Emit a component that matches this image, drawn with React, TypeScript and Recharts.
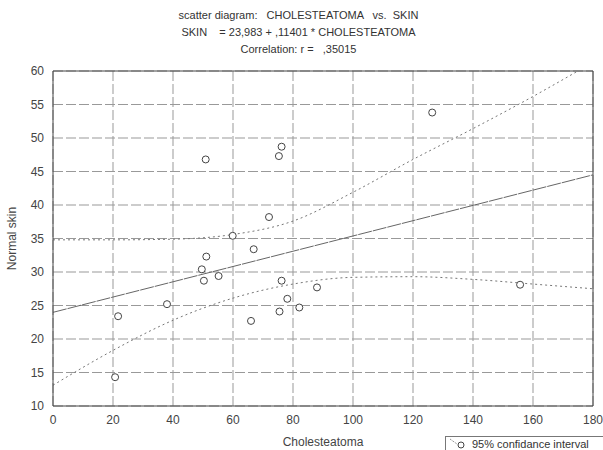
import {
  ComposedChart,
  Scatter,
  Line,
  XAxis,
  YAxis,
  CartesianGrid,
  ReferenceLine,
} from "recharts";

// observed pairs (cholesteatoma, normal skin)
const cholesteatoma = [
  20.7, 21.7, 38, 49.6, 50.3, 50.9, 51.1, 55.2, 59.9, 66, 66.9, 72, 75.3,
  76.2, 75.5, 76.2, 78.1, 82.1, 88, 126.4, 155.7,
];
const skin = [
  14.3, 23.4, 25.2, 30.4, 28.7, 46.8, 32.3, 29.4, 35.4, 22.7, 33.4, 38.2,
  47.3, 48.7, 24.1, 28.7, 26, 24.7, 27.7, 53.8, 28.1,
];

// regression line end points
const regX = [0, 180];
const regY = [23.98, 44.5];

// 95% confidence band
const bandX = [0, 20, 40, 60, 80, 100, 120, 140, 160, 180];
const upperBand = [34.8, 34.8, 34.9, 35.6, 37.6, 41.9, 46.8, 51.4, 56.2, 61.3];
const lowerBand = [13.1, 18.3, 22.8, 26.1, 28.2, 29.2, 29.3, 28.9, 28.2, 27.5];

const xTicks = [0, 20, 40, 60, 80, 100, 120, 140, 160, 180];
const yTicks = [10, 15, 20, 25, 30, 35, 40, 45, 50, 55, 60];

const points = cholesteatoma.map((x, i) => ({ x, y: skin[i] }));
const regData = regX.map((x, i) => ({ x, y: regY[i] }));
const upperData = bandX.map((x, i) => ({ x, y: upperBand[i] }));
const lowerData = bandX.map((x, i) => ({ x, y: lowerBand[i] }));

const font = "'Liberation Sans', Arial, sans-serif";
const tickStyle = { fontSize: 12, fill: "#444", fontFamily: font };

const OpenCircle = (props: any) => (
  <circle
    cx={props.cx}
    cy={props.cy}
    r={3.5}
    fill="#fff"
    stroke="#444"
    strokeWidth={1}
  />
);

const titleLine = (text: string, top: number) => (
  <div
    style={{
      position: "absolute",
      left: -3,
      top,
      width: 603,
      textAlign: "center",
      whiteSpace: "pre",
      fontSize: 11,
      color: "#333",
      fontFamily: font,
    }}
  >
    {text}
  </div>
);

export default function App() {
  return (
    <div
      style={{
        position: "absolute",
        left: 0,
        top: 0,
        width: 603,
        height: 450,
        background: "#fff",
        overflow: "hidden",
      }}
    >
      {titleLine("scatter diagram:   CHOLESTEATOMA   vs.  SKIN", 9)}
      {titleLine("SKIN    = 23,983 + ,11401 * CHOLESTEATOMA", 26)}
      {titleLine("Correlation: r =   ,35015", 43)}

      <ComposedChart
        width={603}
        height={450}
        margin={{ top: 71, right: 10, bottom: 14, left: 0 }}
      >
        <CartesianGrid stroke="#999" strokeDasharray="10 3" />
        <XAxis
          type="number"
          dataKey="x"
          domain={[0, 180]}
          ticks={xTicks}
          allowDataOverflow
          height={30}
          tickSize={0}
          tickMargin={9}
          tick={tickStyle}
          axisLine={{ stroke: "#444" }}
          label={{
            value: "Cholesteatoma",
            position: "insideBottom",
            offset: -10,
            style: { fontSize: 12, fill: "#444", fontFamily: font },
          }}
        />
        <YAxis
          type="number"
          dataKey="y"
          domain={[10, 60]}
          ticks={yTicks}
          allowDataOverflow
          width={53}
          tickSize={0}
          tickMargin={9}
          tick={tickStyle}
          axisLine={{ stroke: "#444" }}
          label={{
            value: "Normal skin",
            angle: -90,
            position: "insideLeft",
            offset: 12,
            style: {
              fontSize: 12,
              fill: "#444",
              fontFamily: font,
              textAnchor: "middle",
            },
          }}
        />
        <ReferenceLine y={60} stroke="#444" />
        <ReferenceLine x={180} stroke="#444" />
        <Line
          data={upperData}
          dataKey="y"
          type="monotone"
          stroke="#777"
          strokeDasharray="2 3"
          dot={false}
          isAnimationActive={false}
        />
        <Line
          data={lowerData}
          dataKey="y"
          type="monotone"
          stroke="#777"
          strokeDasharray="2 3"
          dot={false}
          isAnimationActive={false}
        />
        <Line
          data={regData}
          dataKey="y"
          type="linear"
          stroke="#666"
          strokeDasharray="14 1"
          dot={false}
          isAnimationActive={false}
        />
        <Scatter
          data={points}
          shape={OpenCircle}
          isAnimationActive={false}
        />
      </ComposedChart>

      <div
        style={{
          position: "absolute",
          left: 445,
          top: 436,
          width: 170,
          height: 24,
          border: "1px solid #777",
          boxSizing: "border-box",
          fontFamily: font,
          fontSize: 11,
          color: "#333",
          whiteSpace: "nowrap",
        }}
      >
        <svg
          width={24}
          height={12}
          style={{ position: "absolute", left: 2, top: 1 }}
        >
          <line x1={2} y1={1} x2={9} y2={6} stroke="#777" strokeDasharray="1 1" />
          <circle cx={13} cy={7} r={3} fill="#fff" stroke="#444" />
        </svg>
        <span style={{ position: "absolute", left: 26, top: 1 }}>
          95% confidance interval
        </span>
      </div>
    </div>
  );
}
